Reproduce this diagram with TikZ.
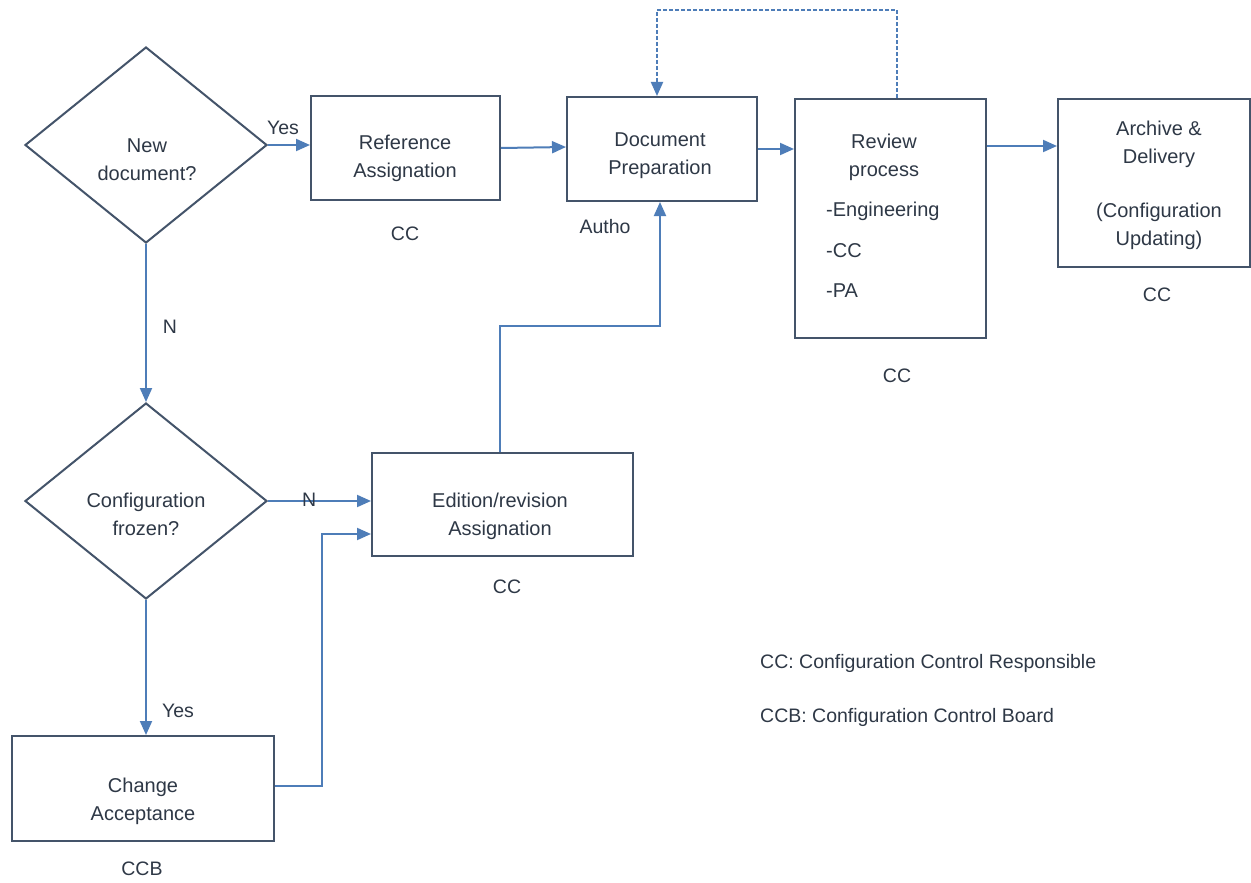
\documentclass[tikz,border=0pt]{standalone}
\usepackage{fontspec}
\setmainfont{Liberation Sans}
\usetikzlibrary{arrows.meta,shapes.geometric}
\definecolor{edge}{HTML}{44546A}
\definecolor{flow}{HTML}{4E7DB8}
\definecolor{ink}{HTML}{2E3846}
\begin{document}
\begin{tikzpicture}[x=1pt,y=-1pt,
  box/.style={draw=edge,line width=2pt,rectangle,inner sep=0pt},
  dia/.style={draw=edge,line width=2pt,diamond,inner sep=0pt,minimum width=242pt,minimum height=196pt},
  txt/.style={inner sep=0pt,text=ink,align=center,font=\fontsize{20}{28}\selectfont},
  lbl/.style={inner sep=0pt,text=ink,font=\fontsize{19.5}{24}\selectfont,text height=14pt,text depth=4pt},
  flowline/.style={draw=flow,line width=2pt},
  arr/.style={flowline,-{Triangle[length=14pt,width=12pt]}}]
\useasboundingbox (0,0) rectangle (1251,883);
\fill[white] (0,0) rectangle (1251,883);

% shapes
\node[dia] (d1) at (146,145) {};
\node[dia] (d2) at (146,501) {};
\node[box,minimum width=189pt,minimum height=104pt] (ref) at (405.5,148) {};
\node[box,minimum width=190pt,minimum height=104pt] (doc) at (662,149) {};
\node[box,minimum width=191pt,minimum height=239pt] (rev) at (890.5,218.5) {};
\node[box,minimum width=192pt,minimum height=168pt] (arc) at (1154,183) {};
\node[box,minimum width=261pt,minimum height=103pt] (edi) at (502.5,504.5) {};
\node[box,minimum width=262pt,minimum height=105pt] (chg) at (143,788.5) {};

% texts in shapes
\node[txt] (d1t) at (147,160) {New\\document?};
\node[txt] (d2t) at (146,514) {Configuration\\frozen?};
\node[txt] (reft) at (405,158.5) {Reference\\Assignation};
\node[txt] (doct) at (660,156) {Document\\Preparation};
\node[txt] (revt) at (884,157) {Review\\process};
\node[txt,anchor=west] (rev1) at (826,211) {-Engineering};
\node[txt,anchor=west] (rev2) at (826,251) {-CC};
\node[txt,anchor=west] (rev3) at (826,291) {-PA};
\node[txt] (arct) at (1159,144) {Archive \&\\Delivery};
\node[txt] (arct2) at (1159,226) {(Configuration\\Updating)};
\node[txt] (edit) at (500,516) {Edition/revision\\Assignation};
\node[txt] (chgt) at (143,801) {Change\\Acceptance};

% labels
\node[lbl] (cc1) at (405,235) {CC};
\node[lbl] (autho) at (605,228) {Autho};
\node[lbl] (cc2) at (897,377) {CC};
\node[lbl] (cc3) at (1157,296) {CC};
\node[lbl] (cc4) at (507,588) {CC};
\node[lbl] (ccb) at (142,870) {CCB};
\node[lbl] (yes1) at (283,130) {Yes};
\node[lbl] (yes2) at (178,712) {Yes};
\node[lbl] (n1) at (170,328) {N};
\node[lbl,anchor=west] (leg1) at (760,663) {CC: Configuration Control Responsible};
\node[lbl,anchor=west] (leg2) at (760,717) {CCB: Configuration Control Board};

% connectors
\draw[arr] (d1.east) -- (d1.east -| ref.west);
\draw[arr] (ref.east) -- ([yshift=2pt]doc.west);
\draw[arr] (doc.east) -- (doc.east -| rev.west);
\draw[arr] (rev.east |- 0,146) -- (arc.west |- 0,146);
\draw[arr] (d1.south) -- (d2.north);
\draw[arr] (d2.south) -- (d2.south |- chg.north);
\draw[arr] (d2.east) -- node[lbl,pos=0.4] (n2) {N} (d2.east -| edi.west);
\coordinate (c1) at (322,786);
\coordinate (c2) at (322,534);
\draw[arr] (chg.east |- c1) -- (c1) -- (c2) -- (c2 -| edi.west);
\coordinate (u1) at (500,326);
\coordinate (u2) at (660,326);
\draw[arr] (edi.north -| u1) -- (u1) -- (u2) -- (u2 |- doc.south);
\coordinate (t1) at (897,10);
\coordinate (t2) at (657,10);
\draw[arr,dash pattern=on 4pt off 2pt] (rev.north -| t1) -- (t1) -- (t2) -- (t2 |- doc.north);
\end{tikzpicture}
\end{document}
